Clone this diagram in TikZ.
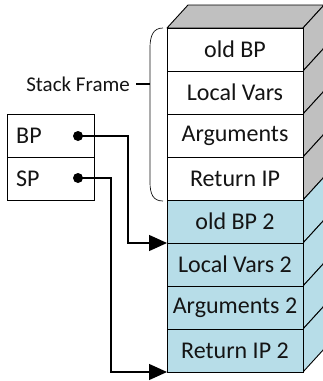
\documentclass[tikz,border=0pt]{standalone}
\usepackage{fontspec}
\setmainfont{Carlito}
\usetikzlibrary{arrows.meta,calc}
\definecolor{cellblue}{RGB}{183,221,232}
\definecolor{sidegray}{RGB}{192,192,192}
\definecolor{inkgray}{RGB}{20,20,20}
\tikzset{
  cell/.style={draw=black, line width=1pt, minimum width=136pt, minimum height=43pt,
    inner sep=0pt, outer sep=0pt, font=\fontsize{24}{26}\selectfont, text=inkgray},
  regcell/.style={draw=black, line width=1pt, minimum width=87pt, minimum height=43pt,
    inner sep=0pt, outer sep=0pt},
  regtext/.style={font=\fontsize{24}{26}\selectfont, text=inkgray, anchor=west, inner sep=0pt},
  side/.style={draw=black, line width=0.9pt, line join=round},
  conn/.style={draw=black, line width=1.3pt, -{Triangle[length=18pt,width=16pt]}},
  dot/.style={circle, fill=black, minimum size=10pt, inner sep=0pt},
}
\begin{document}
\begin{tikzpicture}[x=1pt,y=-1pt]
\useasboundingbox (0,0) rectangle (323,381);
% depth of the 3-D stack
\def\dx{21}
\def\dy{23}
% top face
\path[side, fill=sidegray] (167,28) -- (167+\dx,28-\dy) -- (303+\dx,28-\dy) -- (303,28) -- cycle;
% right faces, one per cell
\foreach \i in {0,...,7}{
  \pgfmathsetmacro{\t}{28+43*\i}
  \pgfmathsetmacro{\b}{28+43*(\i+1)}
  \ifnum\i<4 \def\fc{sidegray}\else\def\fc{cellblue}\fi
  \path[side, fill=\fc] (303,\t) -- (303+\dx,\t-\dy) -- (303+\dx,\b-\dy) -- (303,\b) -- cycle;
}
% front cells
\node[cell, fill=white]    (c1) at (235, 49.5) {old BP};
\node[cell, fill=white]    (c2) at (235, 92.5) {Local Vars};
\node[cell, fill=white]    (c3) at (235,135.5) {Arguments};
\node[cell, fill=white]    (c4) at (235,178.5) {Return IP};
\node[cell, fill=cellblue] (c5) at (235,221.5) {old BP 2};
\node[cell, fill=cellblue] (c6) at (235,264.5) {Local Vars 2};
\node[cell, fill=cellblue] (c7) at (235,307.5) {Arguments 2};
\node[cell, fill=cellblue] (c8) at (235,350.5) {Return IP 2};

% frame bracket and its label
\draw[line width=0.7pt, draw=inkgray] (c1.north west) ++(-4,0) coordinate (bt)
  .. controls (153,28) and (150,36) .. (150,48) -- (150,182)
  .. controls (150,194) and (153,201) .. (163,201) coordinate (bb);
\coordinate (bmid) at (150,84);
\node[font=\fontsize{21}{23}\selectfont, text=inkgray, anchor=east, inner sep=0pt] (sf) at (130,84) {Stack Frame};
\draw[line width=1.2pt] (sf.east) ++(6,0) coordinate (tk) -- (bmid);

% register box
\node[regcell] (bp) at (50.5,135.5) {};
\node[regcell] (sp) at (50.5,178.5) {};
\node[regtext] at (16,135.5) {BP};
\node[regtext] at (16,178.5) {SP};
\node[dot] (bpdot) at (78,136) {};
\node[dot] (spdot) at (78,178) {};

% pointers into the stack
\coordinate (bpx) at (128,0);
\coordinate (spx) at (111,0);
\draw[conn] (bpdot.center) -| (bpx |- c5.south west) -- (c5.south west);
\draw[conn] (spdot.center) -| (spx |- c8.south west) -- (c8.south west);
\end{tikzpicture}
\end{document}
